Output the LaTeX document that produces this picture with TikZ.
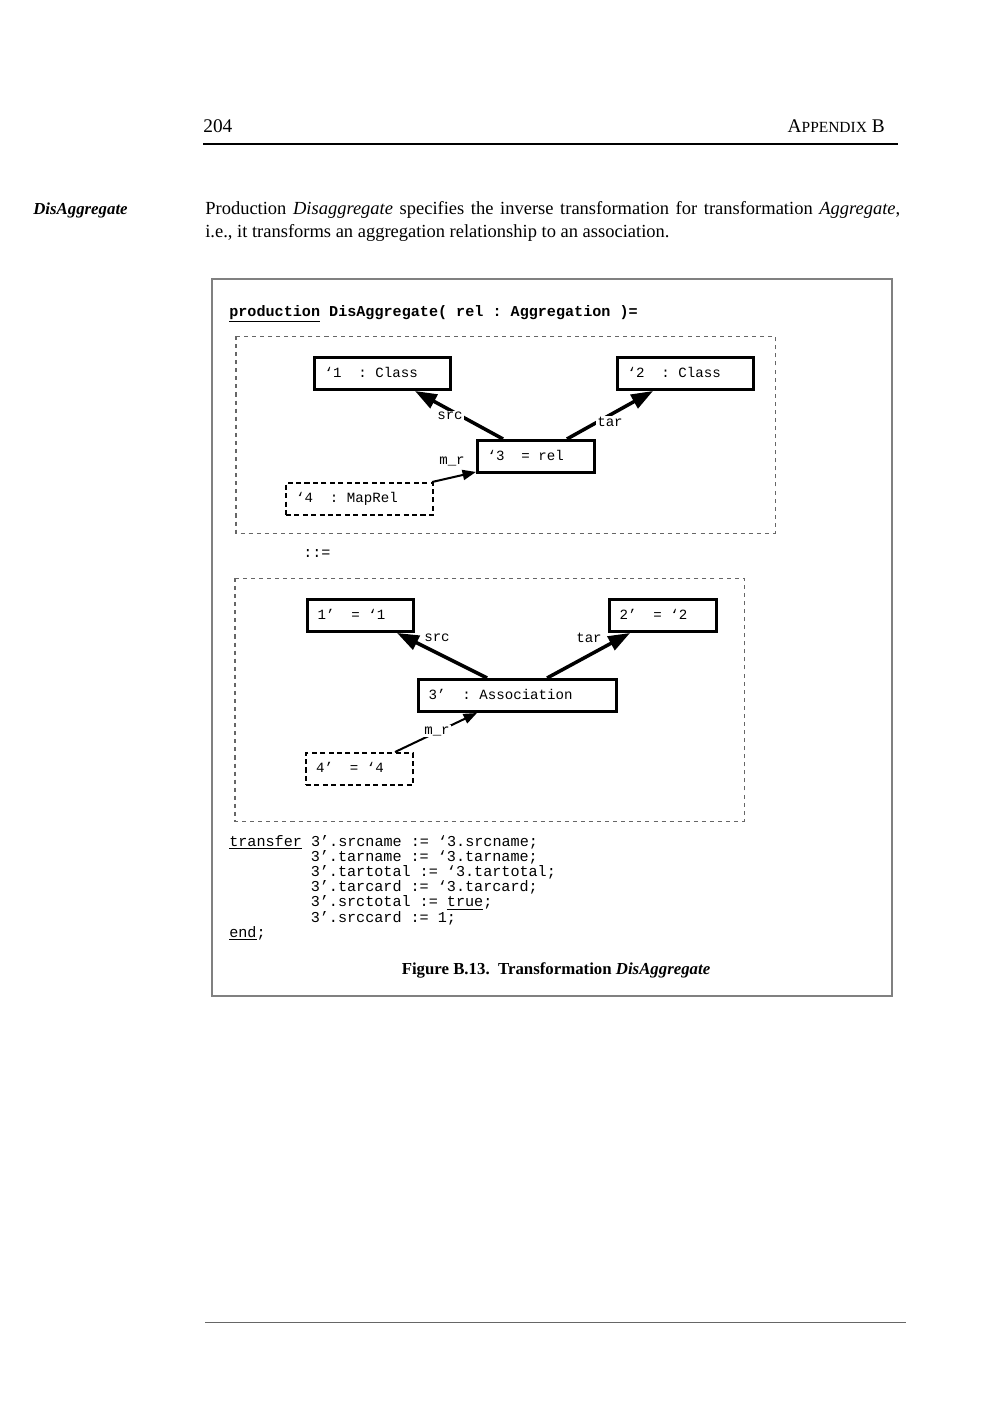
\documentclass[tikz,border=0pt]{standalone}
\usepackage{fontspec}
\setmainfont{Liberation Serif}
\setmonofont{Liberation Mono}
\usetikzlibrary{arrows.meta}

\begin{document}
\begin{tikzpicture}[x=0.595pt,y=-0.595pt]
\tikzset{
  objbox/.style={draw,line width=1.8pt,anchor=north west,minimum height=19pt,inner xsep=6pt,inner ysep=0pt,
    text height=6pt,text depth=1.6pt,font=\fontsize{8.4}{10}\ttfamily},
  mapbox/.style={objbox,line width=1.2pt,dash pattern=on 3pt off 2pt},
  edgelabel/.style={fill=white,inner sep=0.6pt,font=\fontsize{8.4}{10}\ttfamily},
  role/.style={-{Triangle[length=13pt,width=9pt]},line width=2.1pt},
  maplink/.style={-{Triangle[length=8pt,width=6pt]},line width=1.2pt},
  sidegraph/.style={draw=black!60,line width=0.6pt,dash pattern=on 2.4pt off 2.4pt},
  plain/.style={inner sep=0pt,anchor=base west},
  bodytext/.style={plain,font=\fontsize{11}{13}\selectfont},
  codetext/.style={plain,font=\fontsize{9}{10}\ttfamily}
}
\useasboundingbox[fill=white] (0,0) rectangle (1000,1413);
\node[plain,font=\fontsize{11.5}{14}\selectfont] (t_page) at (203,132) {204};
\node[plain,anchor=base east,font=\fontsize{11.5}{14}\selectfont] (t_chapter) at (885,132) {A{\fontsize{9.2}{11}\selectfont PPENDIX} B};
\draw[line width=0.8pt] (203,144) -- (898,144);
\node[bodytext,font=\fontsize{10}{12}\selectfont\bfseries\itshape] (t_margin) at (33,214) {DisAggregate};
\node[bodytext] (t_para1) at (205,214) {\makebox[413.5pt][s]{Production \emph{Disaggregate} specifies the inverse transformation for transformation \emph{Aggregate},}};
\node[bodytext] (t_para2) at (205,237) {i.e., it transforms an aggregation relationship to an association.};
\draw[draw=black!50,line width=1.2pt] (212,279) rectangle (892,996);
\node[codetext,font=\fontsize{9}{10}\ttfamily\bfseries] (t_prod) at (229,316) {\underline{production} DisAggregate( rel : Aggregation )=};
\draw[sidegraph] (236,336) rectangle (775,533);
\node[objbox] (n_c1) at (313,356) {\makebox[68.9pt][l]{‘1\ \ : Class}};
\node[objbox] (n_c2) at (616,356) {\makebox[68.9pt][l]{‘2\ \ : Class}};
\node[objbox] (n_rel) at (476,439) {\makebox[57.6pt][l]{‘3\ \ = rel}};
\node[mapbox] (n_maprel) at (285,482) {\makebox[75.5pt][l]{‘4\ \ : MapRel}};
\draw[role] ([xshift=-19.6pt]n_rel.north) -- ([xshift=19.3pt]n_c1.south);
\draw[role] ([xshift=18.4pt]n_rel.north) -- ([xshift=-19.3pt]n_c2.south);
\draw[maplink] ([xshift=-1.2pt]n_maprel.north east) -- ([yshift=1.2pt]n_rel.south west);
\node[edgelabel] (l_src) at (450,416) {src};
\node[edgelabel] (l_tar) at (610,422) {tar};
\node[edgelabel] (l_mr) at (452,461) {m\_r};
\node[codetext] (t_becomes) at (303,557) {::=};
\draw[sidegraph] (235,578) rectangle (744,821);
\node[objbox] (n_c1n) at (306,598) {\makebox[51.1pt][l]{1’\ \ = ‘1}};
\node[objbox] (n_c2n) at (608,598) {\makebox[51.7pt][l]{2’\ \ = ‘2}};
\node[objbox] (n_assoc) at (417,678) {\makebox[105.8pt][l]{3’\ \ : Association}};
\node[mapbox] (n_mapn) at (305,752) {\makebox[51.7pt][l]{4’\ \ = ‘4}};
\draw[role] ([xshift=-18.1pt]n_assoc.north) -- ([xshift=21.7pt]n_c1n.south);
\draw[role] ([xshift=17.6pt]n_assoc.north) -- ([xshift=-19.6pt]n_c2n.south);
\draw[maplink] ([xshift=21.1pt]n_mapn.north) -- ([xshift=-24.1pt]n_assoc.south);
\node[edgelabel] (l_srcn) at (437,638) {src};
\node[edgelabel] (l_tarn) at (589,638) {tar};
\node[edgelabel] (l_mrn) at (437,731) {m\_r};
\node[codetext] (t_code1) at (229,846) {\underline{transfer} 3’.srcname := ‘3.srcname;};
\node[codetext] (t_code2) at (310.5,861.2) {3’.tarname := ‘3.tarname;};
\node[codetext] (t_code3) at (310.5,876.4) {3’.tartotal := ‘3.tartotal;};
\node[codetext] (t_code4) at (310.5,891.6) {3’.tarcard := ‘3.tarcard;};
\node[codetext] (t_code5) at (310.5,906.8) {3’.srctotal := \underline{true};};
\node[codetext] (t_code6) at (310.5,922) {3’.srccard := 1;};
\node[codetext] (t_code7) at (229,937.2) {\underline{end};};
\node[bodytext,anchor=base,font=\fontsize{10}{12}\selectfont\bfseries] (t_caption) at (556,974) {Figure B.13.\enspace Transformation \textit{DisAggregate}};
\draw[line width=0.4pt,black!60] (205,1322) -- (906,1322);
\end{tikzpicture}
\end{document}
